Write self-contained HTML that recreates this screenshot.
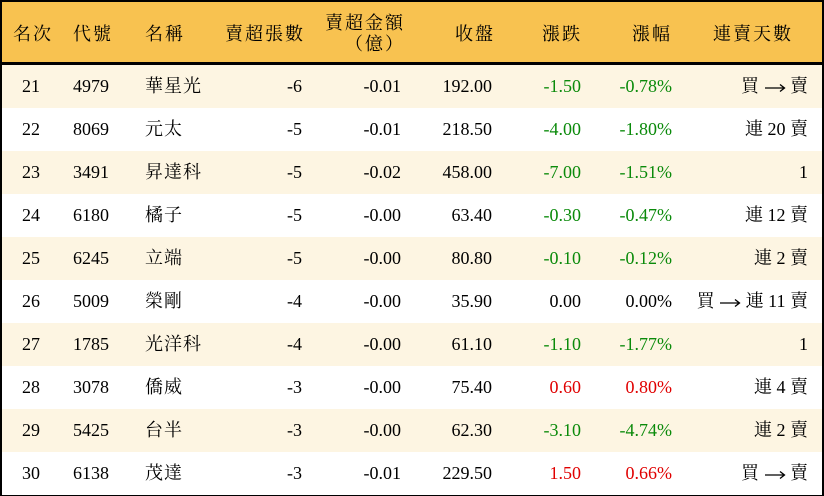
<!DOCTYPE html>
<html><head><meta charset="utf-8"><style>
body{margin:0;width:824px;height:496px;overflow:hidden;background:#fff;font-family:"Liberation Serif","Noto Serif CJK SC",serif;font-size:18px;color:#000}
.wrap{position:absolute;left:0;top:0;width:820px;height:492px;border:2px solid #000;}
.hdr{position:absolute;left:0;top:0;width:820px;height:60px;background:#f8c250;border-bottom:3px solid #000}
.row{position:absolute;left:0;width:820px;height:43px}
.c{position:absolute;top:0;line-height:43px;white-space:nowrap}
.h{position:absolute;white-space:nowrap;letter-spacing:2px}
.g{color:#0a8a0a}.r{color:#e00000}
</style></head><body><div class="wrap">
<div class="hdr">
<div class="h" style="left:11px;top:18px">名次</div>
<div class="h" style="left:71px;top:18px">代號</div>
<div class="h" style="left:143px;top:18px">名稱</div>
<div class="h" style="left:223px;top:18px">賣超張數</div>
<div class="h" style="left:323px;top:7px">賣超金額</div>
<div class="h" style="left:343px;top:28px">（億）</div>
<div class="h" style="left:453px;top:18px">收盤</div>
<div class="h" style="left:540px;top:18px">漲跌</div>
<div class="h" style="left:630px;top:18px">漲幅</div>
<div class="h" style="left:711px;top:18px">連賣天數</div>
</div>
<div id="rows"></div>
</div>
<script>
var A='<svg width="22" height="10" viewBox="0 0 22 10" style="vertical-align:middle"><path d="M1 5H20M16 1.5L20.5 5L16 8.5" stroke="#000" stroke-width="1.3" fill="none"/></svg>';
var d=[
["21","4979","華星光","-6","-0.01","192.00","-1.50","-0.78%","買 "+A+" 賣","g"],
["22","8069","元太","-5","-0.01","218.50","-4.00","-1.80%","連 20 賣","g"],
["23","3491","昇達科","-5","-0.02","458.00","-7.00","-1.51%","1","g"],
["24","6180","橘子","-5","-0.00","63.40","-0.30","-0.47%","連 12 賣","g"],
["25","6245","立端","-5","-0.00","80.80","-0.10","-0.12%","連 2 賣","g"],
["26","5009","榮剛","-4","-0.00","35.90","0.00","0.00%","買 "+A+" 連 11 賣",""],
["27","1785","光洋科","-4","-0.00","61.10","-1.10","-1.77%","1","g"],
["28","3078","僑威","-3","-0.00","75.40","0.60","0.80%","連 4 賣","r"],
["29","5425","台半","-3","-0.00","62.30","-3.10","-4.74%","連 2 賣","g"],
["30","6138","茂達","-3","-0.01","229.50","1.50","0.66%","買 "+A+" 賣","r"]];
var h="";
d.forEach(function(r,i){
var bg=i%2==0?"#fdf5e2":"#fff";
h+='<div class="row" style="top:'+(63+i*43)+'px;background:'+bg+'">'+
'<div class="c" style="left:20px">'+r[0]+'</div>'+
'<div class="c" style="left:71px">'+r[1]+'</div>'+
'<div class="c" style="left:143px;letter-spacing:1px">'+r[2]+'</div>'+
'<div class="c" style="right:520px">'+r[3]+'</div>'+
'<div class="c" style="right:421px">'+r[4]+'</div>'+
'<div class="c" style="right:330px">'+r[5]+'</div>'+
'<div class="c '+r[9]+'" style="right:241px">'+r[6]+'</div>'+
'<div class="c '+r[9]+'" style="right:150px">'+r[7]+'</div>'+
'<div class="c" style="right:14px">'+r[8]+'</div></div>';
});
document.getElementById("rows").innerHTML=h;
</script>
</body></html>
